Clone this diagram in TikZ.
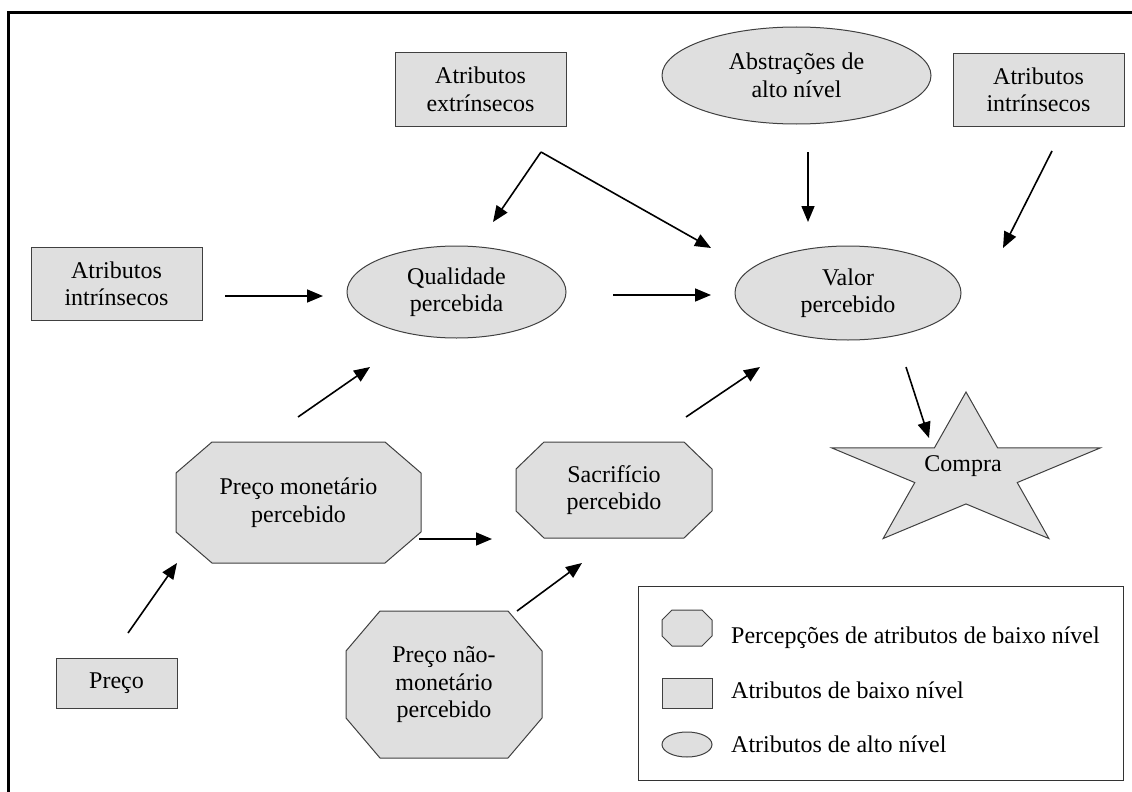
\documentclass[tikz,border=0pt]{standalone}
\usepackage{fontspec}
\setmainfont{Liberation Serif}
\usetikzlibrary{arrows.meta, positioning, shapes.geometric}
\pgfdeclarelayer{back}
\pgfsetlayers{back,main}
\newcommand{\octagon}[3]{%
  \begin{pgfonlayer}{back}
    \filldraw[octline] ([xshift=#2]#1.north west) -- ([xshift=-#2]#1.north east)
      -- ([yshift=-#3]#1.north east) -- ([yshift=#3]#1.south east)
      -- ([xshift=-#2]#1.south east) -- ([xshift=#2]#1.south west)
      -- ([yshift=#3]#1.south west) -- ([yshift=-#3]#1.north west) -- cycle;
  \end{pgfonlayer}}

\begin{document}
\begin{tikzpicture}[x=1pt, y=-1pt, >={Triangle[length=16pt, width=13pt]},
    every node/.style={font=\fontsize{24}{27.5}\selectfont, align=center},
    box/.style={rectangle, draw=black!75, line width=1pt, fill=gray!25, minimum width=171pt, minimum height=73pt},
    oval/.style={ellipse, draw=black!75, line width=1pt, fill=gray!25, inner sep=0pt},
    octa/.style={rectangle, inner sep=0pt, outer sep=0pt},
    octline/.style={draw=black!75, line width=1pt, fill=gray!25},
    arrow/.style={->, line width=1.6pt},
    legtext/.style={anchor=base west, inner sep=0pt}]
  \useasboundingbox (0,0) rectangle (1132,792);
  \draw[line width=3pt] (8,13) rectangle (1160,820);

  \node[box] (extr) at (480.5,89.5) {Atributos\\extrínsecos};
  \node[oval, minimum width=269pt, minimum height=97pt] (abst) at (796.5,75.5) {Abstrações de\\alto nível};
  \node[box] (intr) at (1038.5,90) {Atributos\\intrínsecos};
  \node[box] (intl) at (116.5,284) {Atributos\\intrínsecos};
  \node[oval, minimum width=219pt, minimum height=92pt] (qual) at (456.5,292) {Qualidade\\percebida};
  \node[oval, minimum width=226pt, minimum height=94pt] (valor) at (848,293) {Valor\\percebido};
  \node[octa, minimum width=245pt, minimum height=121pt] (mon) at (298.5,502.5) {Preço monetário\\percebido};
  \octagon{mon}{36pt}{31pt}
  \node[octa, minimum width=196pt, minimum height=96pt] (sacr) at (614,490) {Sacrifício\\percebido};
  \octagon{sacr}{28pt}{27pt}
  \node[octa, minimum width=196pt, minimum height=147pt] (naomon) at (444,684.5) {Preço não-\\monetário\\percebido};
  \octagon{naomon}{34pt}{40pt}
  \node[box, minimum width=121pt, minimum height=50pt] (preco) at (116.5,683) {Preço};
  \filldraw[octline] (966,392) \foreach \a/\r in {126/.382,162/1,198/.382,234/1,270/.382,306/1,342/.382,18/1,54/.382}
    {-- ({966+141*\r*cos(\a)},{473-81*\r*sin(\a)})} -- cycle;
  \node (compra) at (963,466) {Compra};

  \coordinate (extr-out) at (541,152);
  \coordinate (qual-top) at (493,222);
  \coordinate (valor-nw) at (711,248);
  \coordinate (abst-out) at (808,152);
  \coordinate (valor-n) at (808,222);
  \coordinate (intr-out) at (1052,151);
  \coordinate (valor-ne) at (1003,248);
  \coordinate (intl-out) at (225,296);
  \coordinate (qual-w) at (323,296);
  \coordinate (qual-out) at (613,295);
  \coordinate (valor-w) at (711,295);
  \coordinate (mon-out) at (298,417);
  \coordinate (qual-s) at (370,367);
  \coordinate (sacr-out) at (686,417);
  \coordinate (valor-s) at (760,367);
  \coordinate (valor-out) at (906,367);
  \coordinate (compra-in) at (929,438);
  \coordinate (preco-out) at (128,633);
  \coordinate (mon-sw) at (177,563);
  \coordinate (mon-out2) at (419,539);
  \coordinate (sacr-w) at (492,539);
  \coordinate (naomon-out) at (517,611);
  \coordinate (sacr-s) at (582,563);

  \draw[arrow] (extr-out) -- (qual-top);
  \draw[arrow] (extr-out) -- (valor-nw);
  \draw[arrow] (abst-out) -- (valor-n);
  \draw[arrow] (intr-out) -- (valor-ne);
  \draw[arrow] (intl-out) -- (qual-w);
  \draw[arrow] (qual-out) -- (valor-w);
  \draw[arrow] (mon-out) -- (qual-s);
  \draw[arrow] (sacr-out) -- (valor-s);
  \draw[arrow] (valor-out) -- (compra-in);
  \draw[arrow] (preco-out) -- (mon-sw);
  \draw[arrow] (mon-out2) -- (sacr-w);
  \draw[arrow] (naomon-out) -- (sacr-s);

  \node[draw=black!80, line width=1pt, minimum width=485pt, minimum height=194pt, inner sep=0pt] (legend) at (880.5,683) {};
  \node[octa, minimum width=50pt, minimum height=36pt] (lg-oct) at (687,628) {};
  \octagon{lg-oct}{10pt}{10pt}
  \node[box, minimum width=50pt, minimum height=30pt] (lg-box) at (687,693) {};
  \node[oval, minimum width=50pt, minimum height=25pt] (lg-oval) at (687,744.5) {};
  \node[legtext] (lg-oct-txt) at (731,643) {Percepções de atributos de baixo nível};
  \node[legtext] (lg-box-txt) at (731,698) {Atributos de baixo nível};
  \node[legtext] (lg-oval-txt) at (731,752) {Atributos de alto nível};
\end{tikzpicture}
\end{document}
